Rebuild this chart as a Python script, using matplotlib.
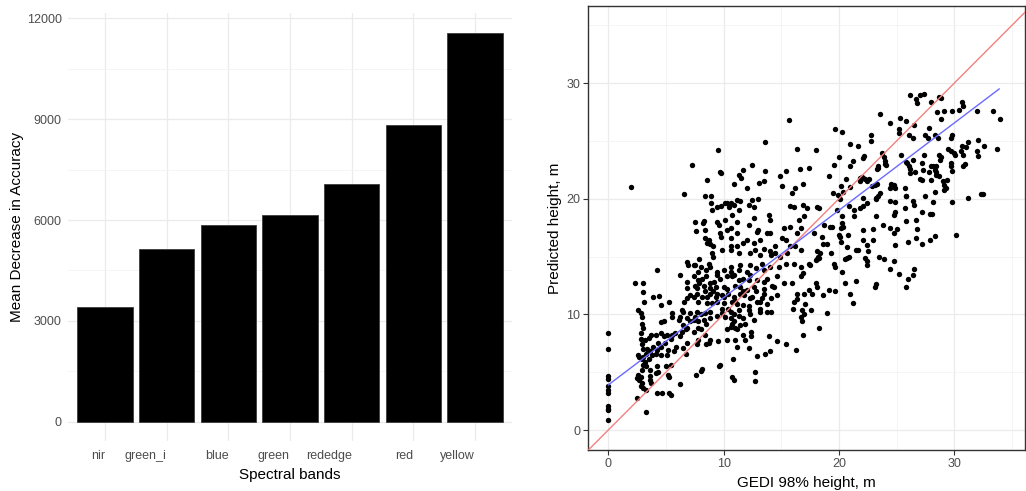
import numpy as np
import matplotlib
matplotlib.use("Agg")
import matplotlib.pyplot as plt

# variable importance (random forest, mean decrease in accuracy)
bands = ["nir", "green_i", "blue", "green", "rededge", "red", "yellow"]
mda = [3420, 5130, 5850, 6160, 7070, 8820, 11570]

# GEDI RH98 vs predicted canopy height (m), grouped by area of the plot
pts_zero = [(0, 8.4), (0, 7.0), (0, 4.7), (0, 4.4), (0, 3.8), (0, 3.5), (0, 3.2),
            (0, 2.1), (0, 1.8), (0, 1.7), (0, 0.9)]

pts_short = [(2.0, 21.0), (2.3, 12.7), (3.0, 12.7), (3.0, 11.9), (3.1, 11.1), (2.6, 10.4),
             (2.8, 10.1), (2.9, 9.8), (2.9, 9.2), (3.0, 8.8), (2.8, 8.4), (2.8, 7.9),
             (2.9, 7.4), (2.6, 6.5), (2.7, 6.3), (2.9, 6.1), (2.6, 4.8), (2.8, 4.6),
             (2.5, 4.5), (2.7, 4.3), (2.9, 4.1), (2.8, 3.8), (3.0, 3.6), (3.3, 3.5),
             (3.6, 4.7), (3.6, 4.3), (3.7, 4.1), (2.5, 2.8), (3.3, 1.6), (4.2, 13.8),
             (3.9, 11.5), (4.4, 11.6), (3.7, 8.2), (4.1, 8.2), (3.5, 8.0), (3.2, 7.8),
             (4.6, 8.4), (4.8, 8.1), (5.1, 8.2), (5.5, 8.2), (5.4, 7.9), (5.8, 8.4),
             (4.6, 9.3), (4.8, 9.4), (4.6, 10.8), (5.3, 11.1), (5.5, 10.1), (5.5, 9.8),
             (4.9, 7.5), (4.6, 7.2), (4.3, 7.5), (4.2, 6.9), (4.1, 6.6), (3.9, 7.2),
             (3.6, 6.8), (3.4, 7.0), (3.3, 6.6), (3.0, 7.0), (3.0, 6.3), (5.2, 6.9),
             (5.7, 6.8), (5.9, 7.2), (5.1, 6.5), (4.6, 6.5), (3.8, 6.5), (3.2, 5.9),
             (3.5, 6.1), (3.0, 5.6), (3.3, 5.5), (2.9, 5.2), (3.6, 5.2), (4.2, 5.5),
             (5.0, 5.5), (5.4, 5.6), (4.3, 5.0), (4.1, 4.9), (4.2, 3.2), (4.7, 3.2),
             (5.3, 3.2), (5.4, 3.0), (5.2, 4.8), (5.3, 4.6)]

pts_young = [(6.6, 20.4), (7.3, 22.9), (9.7, 22.3), (9.8, 22.2), (9.5, 24.2), (8.6, 21.6),
             (8.4, 20.2), (8.9, 20.2), (8.9, 19.6), (9.0, 19.0), (9.4, 19.3), (9.8, 19.4),
             (7.5, 18.0), (8.3, 18.1), (8.2, 17.9), (9.4, 18.0), (9.6, 17.7), (7.6, 17.2),
             (8.4, 17.3), (9.7, 17.0), (9.8, 16.7), (8.4, 16.6), (8.7, 16.4), (7.9, 14.8),
             (7.4, 14.3), (9.9, 15.6), (9.1, 15.9), (9.0, 15.3), (9.1, 15.0), (8.6, 16.2),
             (8.8, 16.1), (9.4, 13.7), (8.8, 14.1), (8.7, 14.4), (8.5, 13.8), (8.0, 14.1),
             (7.5, 14.3), (7.8, 13.7), (6.9, 14.3), (6.8, 14.5), (6.2, 13.4), (9.7, 13.1),
             (9.4, 13.4), (9.2, 12.8), (8.8, 12.7), (8.5, 13.3), (8.1, 13.1), (7.8, 13.0),
             (7.9, 12.7), (7.5, 12.5), (7.4, 13.3), (6.8, 12.8), (6.8, 12.3), (7.7, 12.3),
             (8.3, 12.5), (8.8, 12.3), (9.3, 12.4), (9.9, 11.7), (9.4, 11.8), (9.3, 11.5),
             (9.1, 12.0), (8.8, 11.8), (8.6, 11.5), (8.4, 12.0), (8.1, 11.5), (7.7, 11.8),
             (7.4, 11.5), (7.1, 11.7), (6.8, 11.4), (6.6, 11.1), (7.8, 11.1), (8.6, 11.0),
             (9.0, 11.0), (9.4, 11.1), (9.9, 10.5), (9.9, 10.1), (9.4, 9.9), (8.8, 10.2),
             (8.8, 9.7), (8.4, 10.1), (8.0, 10.0), (7.7, 10.2), (7.5, 9.8), (7.1, 10.1),
             (6.8, 9.7), (6.5, 10.2), (6.4, 10.4), (6.2, 9.8), (6.1, 9.5), (7.1, 9.4),
             (7.4, 9.5), (7.8, 9.4), (8.3, 9.5), (8.5, 9.2), (9.5, 7.7), (8.8, 7.8),
             (8.7, 7.5), (8.4, 8.2), (8.0, 8.7), (7.8, 8.8), (7.4, 8.5), (6.8, 8.8),
             (6.7, 8.7), (6.4, 8.5), (6.2, 8.1), (6.5, 9.1), (8.5, 7.4), (7.7, 7.4),
             (7.8, 7.8), (6.8, 7.5), (6.5, 7.1), (6.7, 6.6), (9.7, 5.6), (9.6, 5.5),
             (8.1, 5.3), (8.0, 5.1), (7.6, 4.8), (6.2, 4.0)]

pts_mid = [(15.7, 26.8), (13.6, 24.9), (18.0, 24.2), (16.4, 24.3), (14.9, 22.0), (15.4, 22.4),
           (16.6, 22.6), (17.4, 22.7), (19.1, 22.0), (12.5, 22.9), (13.6, 22.4), (11.7, 22.5),
           (19.6, 22.9), (15.1, 21.1), (15.9, 20.5), (16.2, 20.9), (16.9, 21.3), (10.9, 21.3),
           (11.5, 21.8), (12.0, 20.9), (11.3, 22.1), (13.1, 21.4), (13.5, 21.5), (19.5, 20.5),
           (18.1, 19.3), (18.3, 19.2), (17.2, 19.2), (16.9, 19.5), (16.1, 19.3), (15.8, 19.4),
           (10.5, 19.3), (10.3, 19.6), (10.6, 19.6), (10.9, 19.5), (11.3, 19.0), (11.2, 19.9),
           (11.4, 19.8), (12.2, 19.5), (12.5, 19.9), (12.6, 19.3), (13.0, 20.0), (10.1, 19.6),
           (17.0, 18.5), (16.5, 18.2), (13.9, 18.6), (14.0, 18.2), (10.7, 18.6), (10.1, 18.2),
           (11.2, 18.0), (12.6, 18.3), (19.2, 17.6), (19.4, 17.6), (18.7, 17.7), (18.5, 16.7),
           (17.8, 17.0), (16.7, 17.5), (16.4, 17.0), (15.8, 17.6), (15.2, 17.5), (15.1, 16.6),
           (14.0, 17.0), (13.8, 17.0), (13.0, 17.3), (12.9, 17.1), (12.2, 17.7), (11.2, 17.0),
           (10.6, 17.5), (10.3, 17.3), (12.0, 16.4), (13.2, 16.4), (10.6, 16.6), (18.6, 16.1),
           (19.0, 16.1), (18.1, 15.5), (18.4, 15.3), (19.3, 15.3), (18.2, 15.0), (18.1, 14.8),
           (15.8, 15.9), (16.2, 15.9), (16.7, 15.6), (15.4, 16.4), (15.5, 15.3), (14.9, 15.0),
           (14.5, 15.9), (14.5, 15.3), (14.0, 15.5), (14.1, 15.1), (13.5, 15.7), (13.2, 15.1),
           (12.6, 16.2), (12.7, 15.6), (12.3, 15.3), (11.7, 16.2), (11.2, 15.9), (10.6, 15.9),
           (10.6, 15.6), (11.3, 15.3), (19.6, 14.4), (18.3, 14.9), (18.0, 14.7), (17.4, 14.4),
           (17.5, 14.3), (16.7, 14.1), (16.9, 13.6), (16.1, 14.4), (15.4, 14.4), (14.8, 14.1),
           (14.0, 14.1), (13.3, 14.4), (13.5, 13.8), (12.8, 14.0), (12.3, 14.3), (11.4, 14.3),
           (11.3, 13.8), (12.0, 13.7), (10.6, 14.1), (10.6, 13.7), (10.0, 13.8), (18.1, 12.4),
           (18.0, 12.7), (16.7, 13.3), (15.9, 12.7), (14.6, 13.3), (15.2, 12.7), (14.2, 12.5),
           (13.8, 13.1), (13.5, 12.8), (12.9, 13.0), (12.3, 13.4), (12.2, 13.0), (11.7, 13.1),
           (11.3, 13.0), (10.9, 13.4), (10.7, 13.3), (10.3, 13.3), (10.0, 12.4), (10.3, 12.2),
           (11.0, 12.5), (11.4, 12.4), (12.0, 12.1), (12.6, 12.4), (13.5, 12.2), (19.1, 12.1),
           (18.6, 11.7), (17.7, 11.8), (17.0, 11.8), (16.4, 11.8), (16.4, 11.3), (16.1, 11.1),
           (14.6, 11.7), (14.1, 11.4), (13.5, 11.8), (13.3, 11.4), (13.2, 11.1), (12.8, 12.0),
           (12.3, 11.4), (12.5, 11.5), (11.7, 12.0), (11.8, 11.7), (11.4, 11.8), (10.9, 11.5),
           (11.0, 11.2), (10.7, 11.1), (10.4, 11.8), (10.0, 11.5), (10.0, 11.0), (11.2, 10.9),
           (11.7, 10.8), (12.2, 10.7), (12.9, 11.1), (13.8, 10.9), (17.1, 10.9), (17.6, 10.4),
           (16.0, 10.5), (17.4, 12.1), (14.4, 12.4), (19.0, 10.1), (16.8, 10.4), (17.0, 10.0),
           (14.1, 10.2), (13.8, 10.2), (13.2, 10.2), (13.2, 10.5), (12.2, 10.4), (11.3, 10.4),
           (10.6, 10.2), (10.4, 10.5), (10.1, 9.8), (10.6, 9.7), (10.9, 10.0), (11.3, 9.9),
           (11.7, 9.7), (12.3, 10.0), (12.6, 9.5), (11.9, 9.2), (10.7, 9.2), (10.9, 9.4),
           (11.4, 9.1), (16.8, 9.4), (16.7, 9.8), (18.3, 8.8), (16.9, 8.2), (12.4, 8.5),
           (12.4, 8.1), (11.7, 8.2), (11.2, 8.7), (11.0, 8.8), (10.6, 8.9), (10.3, 8.7),
           (11.9, 7.8), (11.0, 7.8), (10.3, 7.8), (13.9, 8.1), (14.6, 7.7), (15.4, 7.4),
           (14.0, 6.8), (13.6, 6.6), (12.9, 6.4), (12.2, 7.1), (11.2, 7.2), (10.8, 6.1),
           (16.3, 6.9), (12.7, 5.0), (10.7, 4.6), (10.9, 4.3), (12.7, 4.2)]

pts_tall_low = [(20.1, 20.0), (19.8, 19.0), (20.9, 19.4), (21.3, 19.0), (21.3, 18.5), (21.8, 19.2),
                (22.1, 19.4), (22.4, 19.6), (22.1, 20.1), (23.2, 20.0), (23.4, 20.2), (24.4, 19.8),
                (24.9, 19.7), (25.8, 20.2), (26.4, 19.8), (26.5, 19.5), (24.9, 18.9), (24.8, 18.6),
                (25.7, 19.2), (27.2, 18.9), (27.9, 18.7), (28.1, 18.7), (28.2, 19.7), (29.8, 19.7),
                (23.2, 18.5), (23.8, 17.7), (24.4, 17.5), (25.0, 17.4), (24.8, 17.0), (25.8, 18.1),
                (26.7, 18.2), (26.8, 17.4), (26.7, 16.6), (26.0, 16.3), (27.2, 16.1), (27.9, 16.4),
                (28.3, 16.8), (30.2, 16.9), (24.9, 16.0), (20.0, 16.9), (20.1, 16.7), (20.2, 16.3),
                (20.2, 17.5), (20.4, 17.6), (20.8, 16.9), (20.7, 15.8), (22.1, 17.3), (22.1, 16.4),
                (22.4, 16.0), (22.5, 15.5), (21.5, 15.6), (21.7, 15.6), (20.5, 14.8), (20.7, 14.9),
                (20.9, 15.0), (22.3, 14.9), (22.4, 14.6), (22.4, 14.3), (23.5, 15.0), (23.9, 14.8),
                (24.8, 14.6), (24.4, 13.9), (26.5, 13.9), (26.4, 13.4), (26.0, 13.1), (25.8, 12.4),
                (25.2, 13.5), (23.1, 12.4), (23.2, 12.6), (21.5, 12.9), (20.5, 12.7), (20.3, 13.7),
                (21.0, 11.8), (21.2, 11.0), (19.7, 14.1), (19.7, 12.0), (20.3, 18.5), (20.3, 17.9),
                (23.0, 17.4), (23.0, 16.4)]

pts_tall_high = [(26.2, 29.0), (26.7, 28.6), (26.8, 28.3), (27.0, 29.0), (27.4, 29.1), (28.0, 28.4),
                 (28.7, 28.8), (28.9, 28.7), (30.7, 28.4), (30.8, 28.0), (30.4, 27.7), (29.8, 27.6),
                 (29.1, 27.6), (28.5, 27.5), (28.9, 26.9), (32.0, 27.6), (33.4, 27.6), (34.0, 26.9),
                 (23.6, 27.3), (24.4, 26.6), (25.3, 27.0), (25.8, 26.7), (26.5, 26.4), (25.2, 26.0),
                 (25.2, 25.7), (26.1, 25.5), (26.4, 25.3), (27.8, 26.1), (27.5, 25.5), (27.7, 25.3),
                 (28.3, 25.5), (29.8, 25.5), (29.7, 25.3), (19.7, 26.0), (20.3, 25.8), (21.0, 24.7),
                 (21.7, 24.6), (22.8, 25.5), (22.8, 25.0), (23.7, 24.0), (23.9, 23.6), (24.0, 23.3),
                 (24.0, 23.0), (23.4, 22.8), (24.1, 22.9), (22.1, 23.5), (21.2, 23.3), (21.0, 22.8),
                 (20.0, 23.6), (20.2, 21.1), (21.8, 21.8), (22.0, 21.9), (22.1, 21.8), (22.3, 21.7),
                 (22.4, 21.5), (22.6, 21.7), (21.8, 21.5), (23.4, 22.7), (23.1, 21.2), (24.4, 20.9),
                 (24.8, 21.2), (24.9, 20.9), (25.7, 20.9), (25.8, 20.2), (23.2, 20.1), (23.6, 20.5),
                 (25.4, 23.8), (25.8, 23.2), (26.1, 22.8), (26.4, 23.4), (26.2, 22.6), (26.6, 22.3),
                 (27.0, 21.7), (27.3, 22.5), (27.8, 22.3), (28.0, 22.8), (28.2, 22.8), (28.4, 22.8),
                 (28.3, 22.5), (28.4, 22.3), (28.7, 22.0), (29.0, 21.5), (29.4, 21.6), (27.5, 20.2),
                 (28.3, 20.6), (29.1, 20.8), (27.2, 23.1), (27.4, 23.8), (28.7, 23.8), (28.9, 23.6),
                 (28.8, 23.4), (28.6, 25.3), (29.5, 24.3), (29.7, 24.1), (30.0, 24.0), (30.1, 23.8),
                 (30.7, 24.6), (31.2, 24.9), (32.1, 25.1), (32.6, 24.6), (33.7, 24.3), (32.0, 24.1),
                 (32.1, 23.7), (30.6, 24.1), (30.8, 23.8), (29.7, 23.1), (29.7, 22.8), (29.8, 22.4),
                 (30.9, 23.0), (30.8, 22.8), (31.2, 20.1), (32.3, 20.4), (32.5, 20.4), (19.9, 20.3),
                 (20.4, 20.6), (31.0, 24.5), (23.3, 22.6), (25.9, 23.1), (22.2, 23.7), (23.3, 21.3),
                 (24.5, 21.3), (22.9, 21.1), (20.6, 21.7), (21.0, 21.0), (26.2, 22.2), (27.2, 21.6),
                 (28.0, 21.6), (28.4, 22.1), (29.1, 21.2), (29.3, 20.9)]

# linear fit line (lm) as shown on the plot: ends at min and max GEDI height
fit_x = [0.0, 33.9]
fit_y = [3.9, 29.5]

all_pts = pts_zero + pts_short + pts_young + pts_mid + pts_tall_low + pts_tall_high
gedi_h = np.array([p[0] for p in all_pts])
pred_h = np.array([p[1] for p in all_pts])

plt.rcParams["font.family"] = ["Liberation Sans", "DejaVu Sans"]

fig = plt.figure(figsize=(10.26, 4.91), dpi=100)

# ---- bar chart: band importance ----
ax1 = fig.add_axes([0.0663, 0.1014, 0.4327, 0.8717])
pos = np.arange(len(bands))
ax1.bar(pos, mda, width=0.9, color="black", edgecolor="#3c3c3c", linewidth=0.6, zorder=2)
ax1.set_xlim(-0.6, len(bands) - 0.4)
ax1.set_ylim(-579, 12152)
ax1.set_yticks([0, 3000, 6000, 9000, 12000])
ax1.set_yticks([1500, 4500, 7500, 10500], minor=True)
ax1.set_xticks(pos, bands, ha="right")
ax1.grid(which="major", color="#ebebeb", lw=0.9, zorder=0)
ax1.grid(which="minor", axis="y", color="#f2f2f2", lw=0.5, zorder=0)
ax1.set_axisbelow(True)
for s in ax1.spines.values():
    s.set_visible(False)
ax1.tick_params(which="both", length=0, labelsize=9, labelcolor="#4d4d4d")
ax1.tick_params(axis="x", pad=6)
ax1.tick_params(axis="y", pad=4.5)
ax1.set_xlabel("Spectral bands", fontsize=11, labelpad=5)
ax1.set_ylabel("Mean Decrease in Accuracy", fontsize=11, labelpad=2)

# ---- scatter: GEDI height vs predicted height ----
ax2 = fig.add_axes([0.5731, 0.0835, 0.4259, 0.9043])
ax2.set_xlim(-1.76, 36.14)
ax2.set_ylim(-1.73, 36.68)
ax2.set_xticks([0, 10, 20, 30])
ax2.set_yticks([0, 10, 20, 30])
ax2.set_xticks([5, 15, 25, 35], minor=True)
ax2.set_yticks([5, 15, 25, 35], minor=True)
ax2.grid(which="major", color="#ebebeb", lw=0.9)
ax2.grid(which="minor", color="#f2f2f2", lw=0.5)
ax2.set_axisbelow(True)

ax2.scatter(gedi_h, pred_h, s=15, c="black", linewidths=0, zorder=3)
ax2.axline((0, 0), slope=1, color="#f58080", lw=1.0, zorder=4)
ax2.plot(fit_x, fit_y, color="#6a6aff", lw=1.0, zorder=4)

for s in ax2.spines.values():
    s.set_color("#333333")
    s.set_linewidth(1.0)
ax2.tick_params(which="major", length=3.5, width=0.8, color="#333333",
                labelsize=9, labelcolor="#4d4d4d", pad=2)
ax2.tick_params(which="minor", length=0)
ax2.set_xlabel("GEDI 98% height, m", fontsize=11, labelpad=4.5)
ax2.set_ylabel("Predicted height, m", fontsize=11, labelpad=3)

fig.savefig("out.png", dpi=100)
